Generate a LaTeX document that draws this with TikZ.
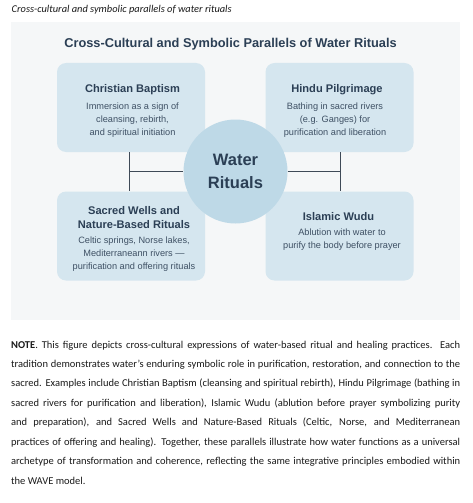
\documentclass[tikz,border=0pt]{standalone}
\usepackage{fontspec}
\setmainfont{Carlito}
\newfontfamily\dfont[Ligatures=TeX]{Liberation Sans}
\definecolor{panelc}{HTML}{F5F7F8}
\definecolor{cardc}{HTML}{D5E6EF}
\definecolor{hubc}{HTML}{BED9E7}
\definecolor{linec}{HTML}{3E4A57}
\definecolor{headc}{HTML}{2B3F55}
\definecolor{bodyc}{HTML}{3E5064}
\definecolor{notec}{HTML}{1A1A1A}
\tikzset{
  panelbox/.style={fill=panelc,draw=none},
  card/.style={fill=cardc,draw=none,rounded corners=9pt,minimum width=148pt,minimum height=89pt,inner sep=0pt},
  hub/.style={circle,fill=hubc,draw=none,minimum size=104pt,inner sep=0pt,align=center,text=headc,font=\dfont\bfseries\fontsize{16.5}{23}\selectfont},
  conn/.style={draw=linec,line width=1.3pt},
  ttl/.style={inner sep=0pt,text=headc,font=\dfont\bfseries\fontsize{12.8}{15}\selectfont},
  head/.style={inner sep=0pt,align=center,text=headc,font=\dfont\bfseries\fontsize{11.1}{13.6}\selectfont},
  body/.style={inner sep=0pt,align=center,text=bodyc,font=\dfont\fontsize{9.2}{13}\selectfont},
}
\begin{document}
\begin{tikzpicture}[x=1pt,y=-1pt]
\useasboundingbox[fill=white] (0,0) rectangle (473,503);
\node[anchor=base west,inner sep=0pt,text=notec,font=\itshape\fontsize{10.4}{12}\selectfont] (cap) at (11.5,12.8) {Cross-cultural and symbolic parallels of water rituals};
\fill[panelbox] (11,22) rectangle (460,320);
\node[ttl] (title) at (230.5,44) {Cross-Cultural and Symbolic Parallels of Water Rituals};
% cards
\node[card] (cb) at (131,107.5) {};
\node[card] (hp) at (339.5,107.5) {};
\node[card] (sw) at (131,236) {};
\node[card] (iw) at (339.5,236) {};
% card texts
\node[head] (cbh) at (132.5,90) {Christian Baptism};
\node[body] (cbt) at (132.5,120) {Immersion as a sign of\\cleansing, rebirth,\\and spiritual initiation};
\node[head] (hph) at (337,90) {Hindu Pilgrimage};
\node[body] (hpt) at (335,120) {Bathing in sacred rivers\\(e.g. Ganges) for\\purification and liberation};
\node[head] (swh) at (134,217.5) {Sacred Wells and\\Nature-Based Rituals};
\node[body] (swt) at (134,254) {Celtic springs, Norse lakes,\\Mediterraneann rivers —\\purification and offering rituals};
\node[head] (iwh) at (338.5,216.7) {Islamic Wudu};
\node[body] (iwt) at (342,240) {Ablution with water to\\purify the body before prayer};
% hub
\node[hub] (water) at (235.5,171.5) {Water\\Rituals};
% connectors
\coordinate (cbs) at ([xshift=-1.7pt]cb.south);
\coordinate (swn) at ([xshift=-1.7pt]sw.north);
\coordinate (hps) at ([xshift=1.2pt]hp.south);
\coordinate (iwn) at ([xshift=1.2pt]iw.north);
\coordinate (jl) at (cbs |- water.west);
\coordinate (jr) at (hps |- water.east);
\draw[conn] (cbs) -- (swn);
\draw[conn] (hps) -- (iwn);
\draw[conn] (jl) -- (water.west);
\draw[conn] (water.east) -- (jr);
% note
\node[anchor=base west,inner sep=0pt,text width=449pt,align=justify,text=notec,font=\fontsize{10.5}{19.45}\selectfont] (note) at (11,348) {\tolerance=9999\emergencystretch=20pt\textbf{NOTE}. This figure depicts cross-cultural expressions of water-based ritual and healing practices. Each\linebreak tradition demonstrates water’s enduring symbolic role in purification, restoration, and connection to the\linebreak sacred. Examples include Christian Baptism (cleansing and spiritual rebirth), Hindu Pilgrimage (bathing in\linebreak sacred rivers for purification and liberation), Islamic Wudu (ablution before prayer symbolizing purity\linebreak and preparation), and Sacred Wells and Nature-Based Rituals (Celtic, Norse, and Mediterranean\linebreak practices of offering and healing). Together, these parallels illustrate how water functions as a universal\linebreak archetype of transformation and coherence, reflecting the same integrative principles embodied within\linebreak the WAVE model.};
\end{tikzpicture}
\end{document}
